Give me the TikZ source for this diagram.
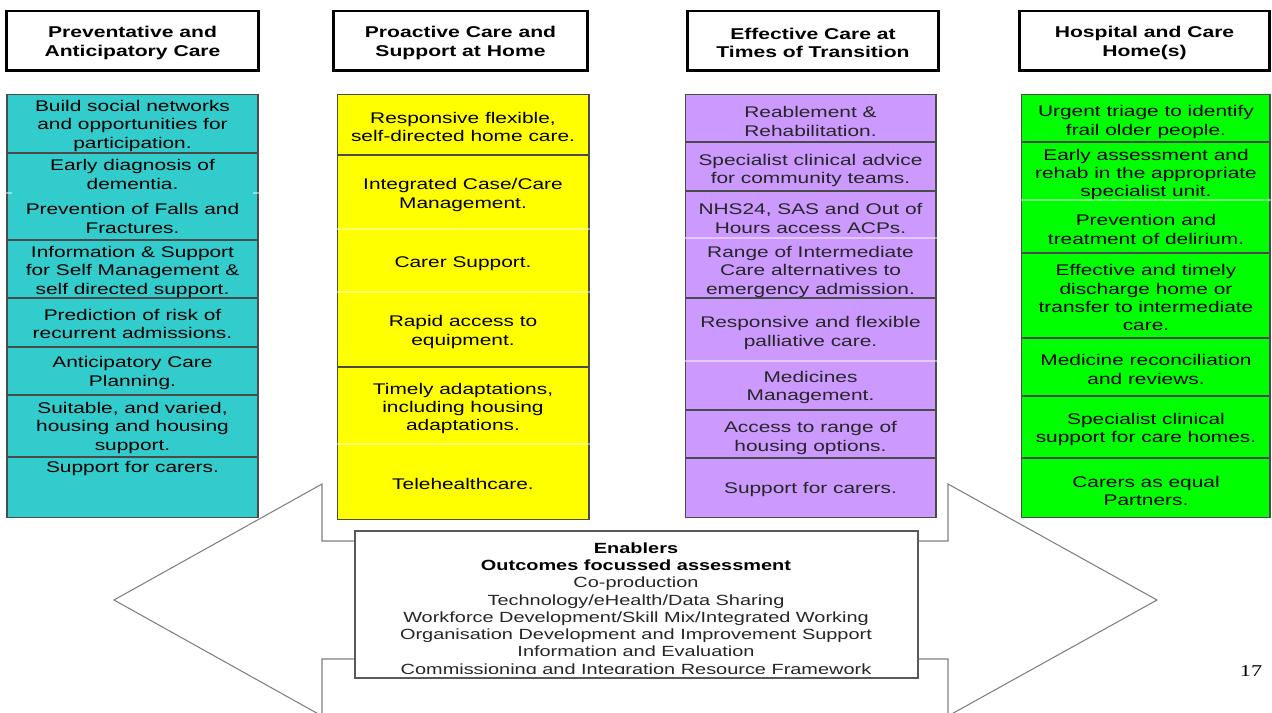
\documentclass[tikz,border=0pt]{standalone}
\usepackage{fontspec}
\setmainfont{Liberation Sans}[FakeStretch=1.35]
\newfontfamily\pagenumfont{Liberation Serif}[FakeStretch=1.35]
\definecolor{cteal}{HTML}{33CCCC}
\definecolor{cyellow}{HTML}{FFFF00}
\definecolor{cpurple}{HTML}{CC99FF}
\definecolor{cgreen}{HTML}{00FF00}
\definecolor{cborder}{HTML}{4A4A4A}
\begin{document}
\begin{tikzpicture}[x=0.02cm,y=-0.02cm,
  hdr/.style={draw=black, line width=1.7pt, fill=white, inner sep=0pt, minimum height=1.2cm},
  hdrtext/.style={align=center, inner sep=0pt, font=\fontsize{8.9}{10.4}\selectfont\bfseries},
  colbox/.style={draw=cborder, line width=0.6pt, inner sep=0pt, minimum height=8.48cm},
  cell/.style={align=center, inner sep=0pt, text=black, yshift=-0.04cm, font=\fontsize{8.8}{10.5}\selectfont},
  div/.style={draw=cborder, line width=0.6pt},
  faint/.style={draw=white, opacity=0.45, line width=0.6pt},
  arrowshape/.style={draw=black!50, line width=0.6pt, fill=white},
  enbox/.style={draw=black!65, line width=0.7pt, fill=white, inner sep=0pt},
  entext/.style={align=center, inner sep=0pt, text=black!85, font=\fontsize{8.4}{9.8}\selectfont}
]
\clip (0,0) rectangle (1272,713);
\fill[white] (0,0) rectangle (1272,713);

% double arrow behind
\draw[arrowshape] (114,600) -- (322,484) -- (322,541) -- (948,541) -- (948,484) -- (1157,600)
  -- (948,716) -- (948,659) -- (322,659) -- (322,716) -- cycle;

% headers
\node[hdr, minimum width=5.06cm] (h1) at (132.5,41) {};
\node[hdr, minimum width=5.10cm] (h2) at (460.5,41) {};
\node[hdr, minimum width=5.04cm] (h3) at (813,41) {};
\node[hdr, minimum width=5.02cm] (h4) at (1144.5,41) {};
\node[hdrtext] (h1t) at (132.5,43) {Preventative and\\Anticipatory Care};
\node[hdrtext] (h2t) at (460.5,43) {Proactive Care and\\Support at Home};
\node[hdrtext] (h3t) at (813,43) {Effective Care at\\Times of Transition};
\node[hdrtext] (h4t) at (1144.5,43) {Hospital and Care\\Home(s)};

% columns
\node[colbox, fill=cteal, minimum width=5.02cm] (c1) at (132.5,306) {};
\node[colbox, fill=cyellow, minimum width=5.04cm, minimum height=8.52cm] (c2) at (463,307) {};
\node[colbox, fill=cpurple, minimum width=5.02cm] (c3) at (810.5,306) {};
\node[colbox, fill=cgreen, minimum width=4.98cm] (c4) at (1145.5,306) {};

% dividers
\foreach \y in {153,240,298,347,395,457} \draw[div] (c1.west |- 0,\y) -- (c1.east |- 0,\y);
\draw[faint] (c1.west |- 0,193) -- ++(6,0);
\draw[faint] (c1.east |- 0,193) -- ++(-6,0);
\foreach \y in {155,367} \draw[div] (c2.west |- 0,\y) -- (c2.east |- 0,\y);
\foreach \y in {229,292,444} \draw[faint] (c2.west |- 0,\y) -- (c2.east |- 0,\y);
\foreach \y in {142,191,298,410,458} \draw[div] (c3.west |- 0,\y) -- (c3.east |- 0,\y);
\foreach \y in {238,361} \draw[faint] (c3.west |- 0,\y) -- (c3.east |- 0,\y);
\foreach \y in {142,253,338,396,458} \draw[div] (c4.west |- 0,\y) -- (c4.east |- 0,\y);
\draw[faint] (c4.west |- 0,200) -- (c4.east |- 0,200);

% column 1 texts
\node[cell] (a1) at (132.5,124) {Build social networks\\and opportunities for\\participation.};
\node[cell] (a2) at (132.5,172.5) {Early diagnosis of\\dementia.};
\node[cell] (a3) at (132.5,216.5) {Prevention of Falls and\\Fractures.};
\node[cell] (a4) at (132.5,270) {Information \& Support\\for Self Management \&\\self directed support.};
\node[cell] (a5) at (132.5,322) {Prediction of risk of\\recurrent admissions.};
\node[cell] (a6) at (132.5,371) {Anticipatory Care\\Planning.};
\node[cell] (a7) at (132.5,426) {Suitable, and varied,\\housing and housing\\support.};
\node[cell] (a8) at (132.5,467) {Support for carers.};

% column 2 texts
\node[cell] (b1) at (463,125) {Responsive flexible,\\self-directed home care.};
\node[cell] (b2) at (463,193) {Integrated Case/Care\\Management.};
\node[cell] (b3) at (463,262) {Carer Support.};
\node[cell] (b4) at (463,330) {Rapid access to\\equipment.};
\node[cell] (b5) at (463,406.5) {Timely adaptations,\\including housing\\adaptations.};
\node[cell] (b6) at (463,482) {Telehealthcare.};

% column 3 texts
\node[cell, text=black!85] (d1) at (810.5,119.5) {Reablement \&\\Rehabilitation.};
\node[cell, text=black!85] (d2) at (810.5,168.5) {Specialist clinical advice\\for community teams.};
\node[cell, text=black!85] (d3) at (810.5,216.5) {NHS24, SAS and Out of\\Hours access ACPs.};
\node[cell, text=black!85] (d4) at (810.5,270) {Range of Intermediate\\Care alternatives to\\emergency admission.};
\node[cell, text=black!85] (d5) at (810.5,331) {Responsive and flexible\\palliative care.};
\node[cell, text=black!85] (d6) at (810.5,385.5) {Medicines\\Management.};
\node[cell, text=black!85] (d7) at (810.5,436) {Access to range of\\housing options.};
\node[cell, text=black!85] (d8) at (810.5,488) {Support for carers.};

% column 4 texts
\node[cell] (e1) at (1146,120) {Urgent triage to identify\\frail older people.};
\node[cell] (e2) at (1146,172.5) {Early assessment and\\rehab in the appropriate\\specialist unit.};
\node[cell] (e3) at (1146,227.5) {Prevention and\\treatment of delirium.};
\node[cell] (e4) at (1146,295.7) {Effective and timely\\discharge home or\\transfer to intermediate\\care.};
\node[cell] (e5) at (1146,367.5) {Medicine reconciliation\\and reviews.};
\node[cell] (e6) at (1146,427.5) {Specialist clinical\\support for care homes.};
\node[cell] (e7) at (1146,489) {Carers as equal\\Partners.};

% enablers
\node[enbox, minimum width=11.26cm, minimum height=2.94cm] (enb) at (636.5,604.5) {};
\begin{scope}
\clip (355,531) rectangle (918,673.5);
\node[entext] (ent) at (636,610) {{\color{black}\bfseries Enablers}\\
{\color{black}\bfseries Outcomes focussed assessment}\\
Co-production\\
Technology/eHealth/Data Sharing\\
Workforce Development/Skill Mix/Integrated Working\\
Organisation Development and Improvement Support\\
Information and Evaluation\\
Commissioning and Integration Resource Framework};
\end{scope}

% page number
\node[inner sep=0pt, font=\pagenumfont\fontsize{9.4}{11}\selectfont] (pg) at (1251,671) {17};
\end{tikzpicture}
\end{document}
